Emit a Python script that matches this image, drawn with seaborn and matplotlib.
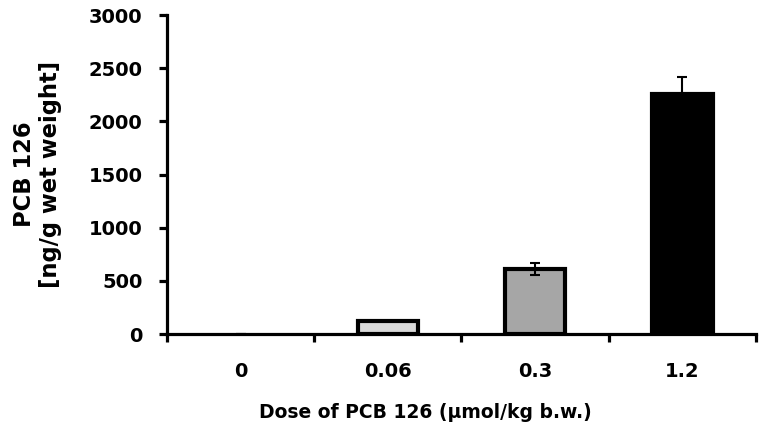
import matplotlib
matplotlib.use("Agg")
import matplotlib.pyplot as plt
import seaborn as sns
import pandas as pd

# Data
doses = ["0", "0.06", "0.3", "1.2"]
values = [0, 120, 610, 2260]
errors = [0, 0, 55, 160]
colors = ["#ffffff", "#d9d9d9", "#a6a6a6", "#000000"]

sns.set_style("white")
plt.rcParams["font.family"] = ["DejaVu Sans"]
plt.rcParams["font.weight"] = "bold"
plt.rcParams["text.color"] = "black"
plt.rcParams["axes.labelcolor"] = "black"
plt.rcParams["xtick.color"] = "black"
plt.rcParams["ytick.color"] = "black"

df = pd.DataFrame({"dose": doses, "value": values})

fig = plt.figure(figsize=(7.6, 4.33), dpi=100)
ax = fig.add_axes([0.2197, 0.2286, 0.775, 0.7364])

sns.barplot(data=df, x="dose", y="value", hue="dose", palette=colors,
            order=doses, hue_order=doses, legend=False, width=0.41,
            edgecolor="black", linewidth=3, errorbar=None, ax=ax)

# zero-height bar leaves no visible mark
for p in ax.patches:
    if p.get_height() == 0:
        p.set_linewidth(0)

ax.errorbar(range(len(doses)), values, yerr=errors, fmt="none",
            ecolor="black", elinewidth=1.5, capsize=3.5, capthick=1.5, zorder=5)

ax.set_xlim(-0.5, 3.5)
ax.set_ylim(0, 3000)
ax.set_yticks(range(0, 3001, 500))
ax.set_xticks(range(len(doses)))
ax.set_xticklabels(doses)
ax.set_xticks([-0.5, 0.5, 1.5, 2.5, 3.5], minor=True)

for side in ["top", "right"]:
    ax.spines[side].set_visible(False)
for side in ["left", "bottom"]:
    ax.spines[side].set_linewidth(2.3)
    ax.spines[side].set_color("black")

ax.tick_params(axis="y", which="major", direction="out", length=5.5, width=2.3,
               labelsize=14, pad=12, left=True, colors="black")
ax.tick_params(axis="x", which="major", length=0, labelsize=14, pad=20,
               colors="black")
ax.tick_params(axis="x", which="minor", direction="out", length=6, width=2.3,
               bottom=True, colors="black")

ax.set_xlabel("Dose of PCB 126 (µmol/kg b.w.)", fontsize=13.5, fontweight="bold",
              color="black")
ax.xaxis.set_label_coords(0.438, -0.215)
ax.set_ylabel("PCB 126\n[ng/g wet weight]", fontsize=16.3, fontweight="bold",
              labelpad=19, color="black")

fig.savefig("out.png", dpi=100)
